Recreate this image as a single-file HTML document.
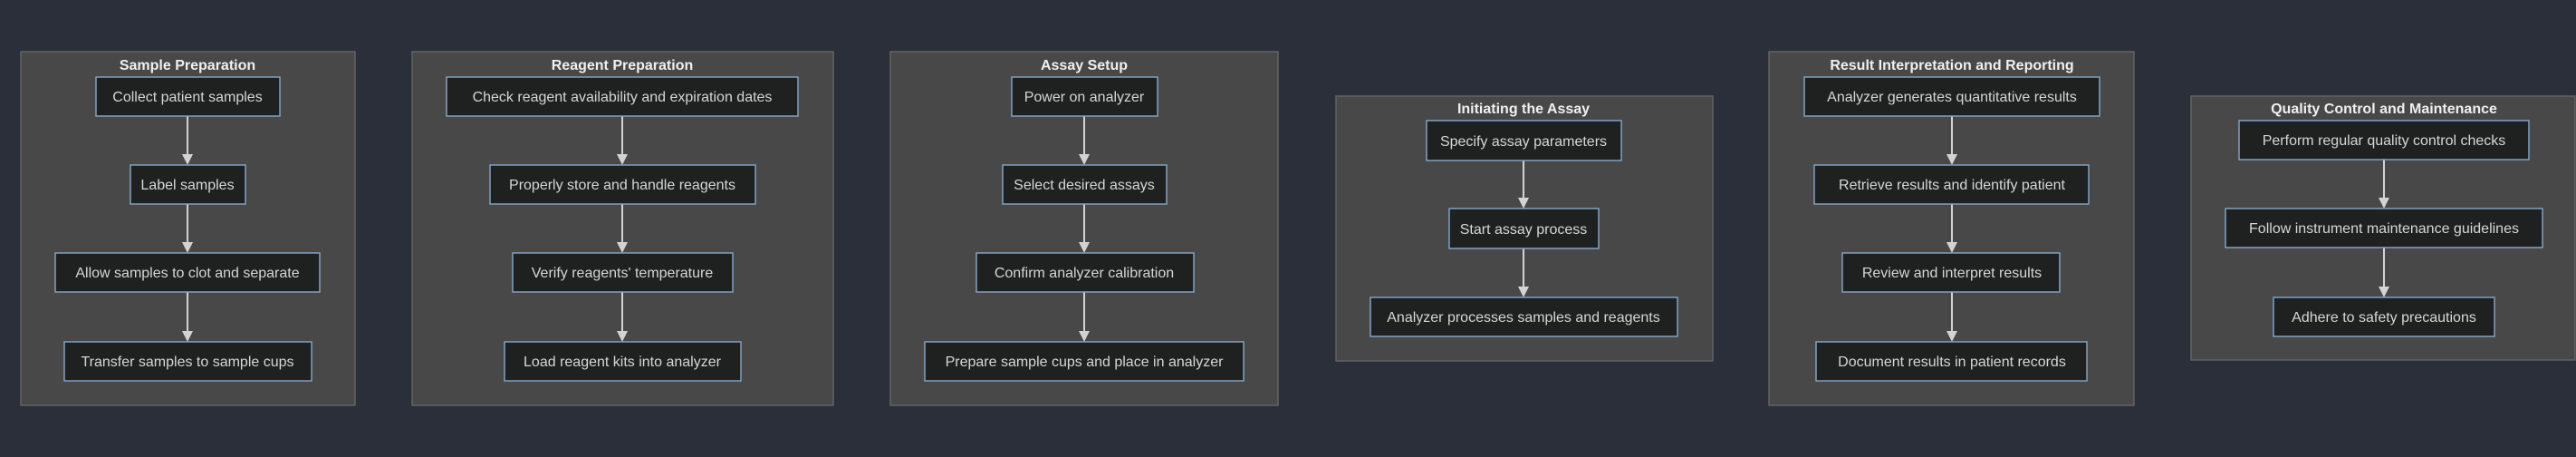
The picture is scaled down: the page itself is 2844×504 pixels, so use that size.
<!DOCTYPE html>
<html><head><meta charset="utf-8"><style>
html,body{margin:0;padding:0;background:#2b2f3a;}
svg{display:block;}
.cl{fill:#484848;stroke:#626262;stroke-width:1.5;}
.nd{fill:#1f2020;stroke:#81a1c1;stroke-width:1.5;}
.t{font-family:"Liberation Sans",sans-serif;font-size:16px;fill:#d6d6d6;text-anchor:middle;}
.h{font-family:"Liberation Sans",sans-serif;font-size:16px;font-weight:bold;fill:#f0f0f0;text-anchor:middle;}
.e{stroke:#d3d3d3;stroke-width:2;}
.a{fill:#d3d3d3;}
</style></head><body>
<svg width="2844" height="504" xmlns="http://www.w3.org/2000/svg">
<rect x="0" y="0" width="2844" height="504" fill="#2b2f3a"/>
<!-- clusters -->
<rect class="cl" x="23" y="57" width="369" height="390"/>
<rect class="cl" x="455" y="57" width="465" height="390"/>
<rect class="cl" x="983" y="57" width="428" height="390"/>
<rect class="cl" x="1475" y="106" width="416" height="292"/>
<rect class="cl" x="1953" y="57" width="403" height="390"/>
<rect class="cl" x="2419" y="106" width="424" height="291"/>
<text class="h" x="207" y="77">Sample Preparation</text>
<text class="h" x="687" y="77">Reagent Preparation</text>
<text class="h" x="1197" y="77">Assay Setup</text>
<text class="h" x="1682" y="125">Initiating the Assay</text>
<text class="h" x="2155" y="77">Result Interpretation and Reporting</text>
<text class="h" x="2632" y="125">Quality Control and Maintenance</text>

<!-- edges: cluster x-centers; rows -->
<g>
<!-- 4-node clusters: rows 85,182,279,377 (h43) -->
<line class="e" x1="207" y1="128" x2="207" y2="172"/><polygon class="a" points="201,170 213,170 207,182"/>
<line class="e" x1="207" y1="225" x2="207" y2="269"/><polygon class="a" points="201,267 213,267 207,279"/>
<line class="e" x1="207" y1="322" x2="207" y2="367"/><polygon class="a" points="201,365 213,365 207,377"/>

<line class="e" x1="687" y1="128" x2="687" y2="172"/><polygon class="a" points="681,170 693,170 687,182"/>
<line class="e" x1="687" y1="225" x2="687" y2="269"/><polygon class="a" points="681,267 693,267 687,279"/>
<line class="e" x1="687" y1="322" x2="687" y2="367"/><polygon class="a" points="681,365 693,365 687,377"/>

<line class="e" x1="1197" y1="128" x2="1197" y2="172"/><polygon class="a" points="1191,170 1203,170 1197,182"/>
<line class="e" x1="1197" y1="225" x2="1197" y2="269"/><polygon class="a" points="1191,267 1203,267 1197,279"/>
<line class="e" x1="1197" y1="322" x2="1197" y2="367"/><polygon class="a" points="1191,365 1203,365 1197,377"/>

<line class="e" x1="2155" y1="128" x2="2155" y2="172"/><polygon class="a" points="2149,170 2161,170 2155,182"/>
<line class="e" x1="2155" y1="225" x2="2155" y2="269"/><polygon class="a" points="2149,267 2161,267 2155,279"/>
<line class="e" x1="2155" y1="322" x2="2155" y2="367"/><polygon class="a" points="2149,365 2161,365 2155,377"/>

<!-- 3-node clusters: rows 133,230,328 -->
<line class="e" x1="1682" y1="177" x2="1682" y2="220"/><polygon class="a" points="1676,218 1688,218 1682,230"/>
<line class="e" x1="1682" y1="274" x2="1682" y2="318"/><polygon class="a" points="1676,316 1688,316 1682,328"/>

<line class="e" x1="2632" y1="176" x2="2632" y2="220"/><polygon class="a" points="2626,218 2638,218 2632,230"/>
<line class="e" x1="2632" y1="273" x2="2632" y2="318"/><polygon class="a" points="2626,316 2638,316 2632,328"/>
</g>

<!-- nodes -->
<rect class="nd" x="106" y="85" width="203" height="43"/><text class="t" x="207" y="112">Collect patient samples</text>
<rect class="nd" x="144" y="182" width="127" height="43"/><text class="t" x="207" y="209">Label samples</text>
<rect class="nd" x="61" y="279" width="292" height="43"/><text class="t" x="207" y="306">Allow samples to clot and separate</text>
<rect class="nd" x="71" y="377" width="273" height="43"/><text class="t" x="207" y="404">Transfer samples to sample cups</text>

<rect class="nd" x="493" y="85" width="388" height="43"/><text class="t" x="687" y="112">Check reagent availability and expiration dates</text>
<rect class="nd" x="541" y="182" width="293" height="43"/><text class="t" x="687" y="209">Properly store and handle reagents</text>
<rect class="nd" x="566" y="279" width="243" height="43"/><text class="t" x="687" y="306">Verify reagents' temperature</text>
<rect class="nd" x="557" y="377" width="261" height="43"/><text class="t" x="687" y="404">Load reagent kits into analyzer</text>

<rect class="nd" x="1117" y="85" width="161" height="43"/><text class="t" x="1197" y="112">Power on analyzer</text>
<rect class="nd" x="1107" y="182" width="181" height="43"/><text class="t" x="1197" y="209">Select desired assays</text>
<rect class="nd" x="1078" y="279" width="240" height="43"/><text class="t" x="1197" y="306">Confirm analyzer calibration</text>
<rect class="nd" x="1021" y="377" width="352" height="43"/><text class="t" x="1197" y="404">Prepare sample cups and place in analyzer</text>

<rect class="nd" x="1575" y="133" width="215" height="44"/><text class="t" x="1682" y="161">Specify assay parameters</text>
<rect class="nd" x="1600" y="230" width="165" height="44"/><text class="t" x="1682" y="258">Start assay process</text>
<rect class="nd" x="1513" y="328" width="339" height="43"/><text class="t" x="1682" y="355">Analyzer processes samples and reagents</text>

<rect class="nd" x="1992" y="85" width="326" height="43"/><text class="t" x="2155" y="112">Analyzer generates quantitative results</text>
<rect class="nd" x="2003" y="182" width="303" height="43"/><text class="t" x="2155" y="209">Retrieve results and identify patient</text>
<rect class="nd" x="2034" y="279" width="240" height="43"/><text class="t" x="2155" y="306">Review and interpret results</text>
<rect class="nd" x="2005" y="377" width="299" height="43"/><text class="t" x="2155" y="404">Document results in patient records</text>

<rect class="nd" x="2472" y="133" width="320" height="43"/><text class="t" x="2632" y="160">Perform regular quality control checks</text>
<rect class="nd" x="2457" y="230" width="350" height="43"/><text class="t" x="2632" y="257">Follow instrument maintenance guidelines</text>
<rect class="nd" x="2510" y="328" width="244" height="43"/><text class="t" x="2632" y="355">Adhere to safety precautions</text>
</svg>
</body></html>
